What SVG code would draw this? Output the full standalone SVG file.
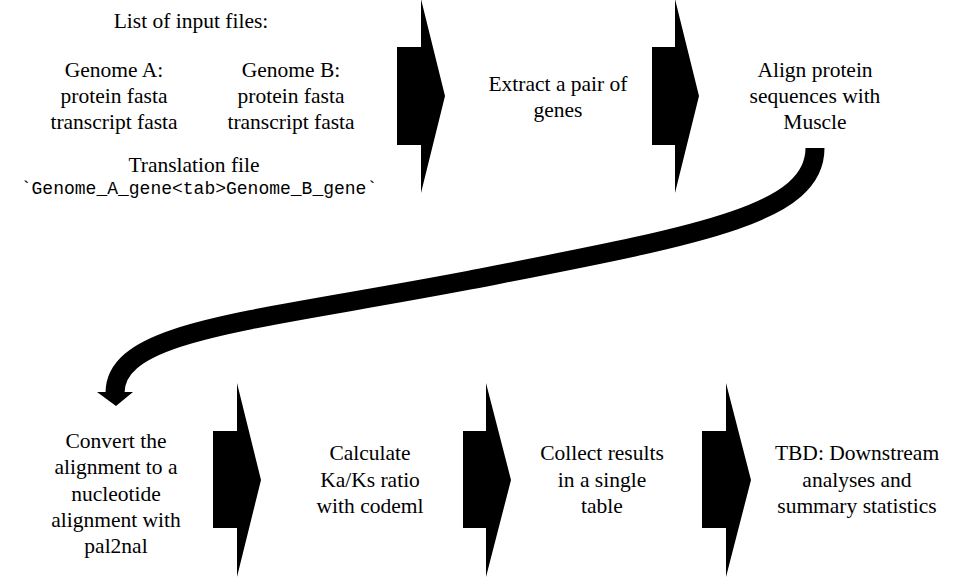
<svg xmlns="http://www.w3.org/2000/svg" width="965" height="585" viewBox="0 0 965 585">
<style>
.t{font-family:"Liberation Serif","Times New Roman",serif;font-size:21.5px;fill:#000;text-anchor:middle}
.m{font-family:"Liberation Mono","Courier New",monospace;font-size:18px;fill:#000;text-anchor:middle}
.ar{fill:#000;stroke:none}
</style>
<rect width="965" height="585" fill="#fff"/>
<g id="connectors">
<polygon class="ar" points="397,47 421,47 421,-1 445,96 421,193 421,145 397,145"/>
<polygon class="ar" points="652,47 675,47 675,-1 699,96 675,193 675,145 652,145"/>
<path d="M815,148 C815,215 700,235 470,280 C250,322 115,330 115,393" fill="none" stroke="#000" stroke-width="19"/>
<polygon class="ar" points="97,392 133,392 116,406"/>
<polygon class="ar" points="213,431 237,431 237,383 261,480 237,577 237,528 213,528"/>
<polygon class="ar" points="463,431 486,431 486,383 511,480 486,577 486,528 463,528"/>
<polygon class="ar" points="702,431 726,431 726,383 751,480 726,577 726,528 702,528"/>
</g>
<g id="inputs">
<text class="t" x="191" y="28">List of input files:</text>
<text class="t" x="114" y="77">Genome A:</text>
<text class="t" x="114" y="103">protein fasta</text>
<text class="t" x="114" y="129">transcript fasta</text>
<text class="t" x="291" y="77">Genome B:</text>
<text class="t" x="291" y="103">protein fasta</text>
<text class="t" x="291" y="129">transcript fasta</text>
<text class="t" x="194" y="172">Translation file</text>
<text class="m" x="199" y="194">`Genome_A_gene&lt;tab&gt;Genome_B_gene`</text>
</g>
<g id="extract">
<text class="t" x="558" y="91">Extract a pair of</text>
<text class="t" x="558" y="117">genes</text>
</g>
<g id="align">
<text class="t" x="815" y="77">Align protein</text>
<text class="t" x="815" y="103">sequences with</text>
<text class="t" x="815" y="129">Muscle</text>
</g>
<g id="convert">
<text class="t" x="116" y="448">Convert the</text>
<text class="t" x="116" y="474">alignment to a</text>
<text class="t" x="116" y="501">nucleotide</text>
<text class="t" x="116" y="527">alignment with</text>
<text class="t" x="116" y="553">pal2nal</text>
</g>
<g id="calculate">
<text class="t" x="370" y="460">Calculate</text>
<text class="t" x="370" y="487">Ka/Ks ratio</text>
<text class="t" x="370" y="513">with codeml</text>
</g>
<g id="collect">
<text class="t" x="602" y="460">Collect results</text>
<text class="t" x="602" y="487">in a single</text>
<text class="t" x="602" y="513">table</text>
</g>
<g id="tbd">
<text class="t" x="857" y="460">TBD: Downstream</text>
<text class="t" x="857" y="487">analyses and</text>
<text class="t" x="857" y="513">summary statistics</text>
</g>
</svg>
